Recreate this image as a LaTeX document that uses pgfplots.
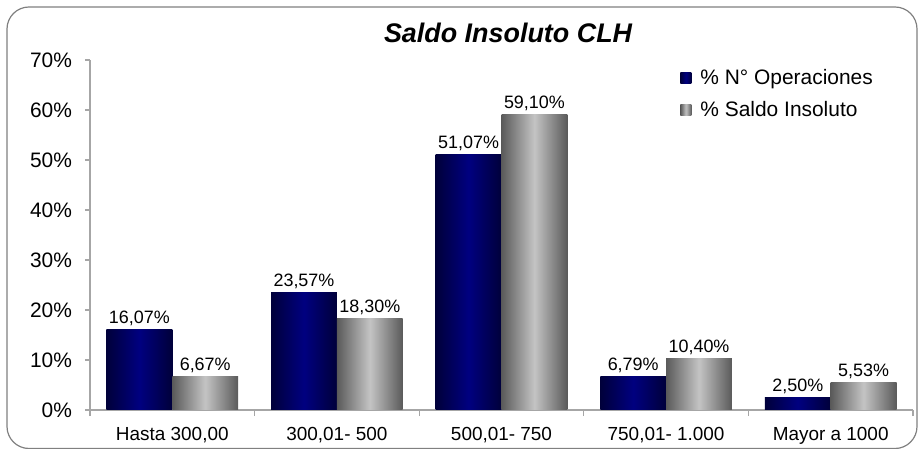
\documentclass[border=0pt]{standalone}
\usepackage{pgfplots}
\pgfplotsset{compat=1.18}
\usepackage{fontspec}
\setmainfont{Liberation Sans}

\definecolor{navyD}{HTML}{00003A}
\definecolor{navyM}{HTML}{000080}
\definecolor{grayD}{HTML}{5A5A5A}
\definecolor{grayM}{HTML}{C4C4C4}
\definecolor{axgray}{HTML}{A6A6A6}

\pgfplotsset{
  opbar/.style={draw=none, bar shift=-0.2, left color=navyD, right color=navyD, middle color=navyM},
  sibar/.style={draw=none, bar shift=0.2, left color=grayD, right color=grayD, middle color=grayM},
}

\begin{document}
\begin{tikzpicture}
\begin{axis}[name=ax,
  scale only axis, width=411.5bp, height=175bp,
  ybar=0pt, bar width=0.4,
  xmin=-0.5, xmax=4.5, ymin=0, ymax=70,
  xtick={0,...,4},
  xticklabels={{Hasta 300,00}, {300,01- 500}, {500,01- 750}, {750,01- 1.000}, {Mayor a 1000}},
  minor xtick={-0.5,0.5,...,4.5},
  ytick={0,10,...,70},
  yticklabel={\pgfmathprintnumber{\tick}\%},
  axis x line*=bottom, axis y line*=left,
  axis line style={axgray, line width=0.6bp},
  tick align=outside,
  major x tick style={draw=none},
  minor x tick style={axgray, line width=0.6bp},
  major y tick style={axgray, line width=0.6bp},
  major tick length=2.5bp, minor tick length=3bp,
  ticklabel style={font=\fontsize{10.5}{12}\selectfont},
  yticklabel style={xshift=-3bp},
  xticklabel style={font=\fontsize{9.5}{11}\selectfont, yshift=-2.5bp},
  /pgf/number format/assume math mode=true,
  nodes near coords={\pgfmathprintnumber[use comma, fixed, fixed zerofill, precision=2]{\pgfplotspointmeta}\%},
  every node near coord/.append style={font=\fontsize{9}{10}\selectfont, text=black, anchor=south, inner sep=1.5bp},
  legend image code/.code={\path[#1] (0bp,-2.75bp) rectangle (5.5bp,2.75bp);},
  legend cell align=left,
  legend style={at={(0.717,0.986)}, anchor=north west, draw=none, fill=none,
    font=\fontsize{10.5}{12}\selectfont, inner sep=0pt, row sep=3bp,
    nodes={inner xsep=4.5bp}},
  clip=false,
]
% % N° Operaciones
\addplot[opbar] coordinates {(0,16.07)};
\addlegendentry{\% N° Operaciones}
\addplot[opbar, forget plot] coordinates {(1,23.57)};
\addplot[opbar, forget plot] coordinates {(2,51.07)};
\addplot[opbar, forget plot] coordinates {(3,6.79)};
\addplot[opbar, forget plot] coordinates {(4,2.50)};
% % Saldo Insoluto
\addplot[sibar] coordinates {(0,6.67)};
\addlegendentry{\% Saldo Insoluto}
\addplot[sibar, forget plot] coordinates {(1,18.30)};
\addplot[sibar, forget plot] coordinates {(2,59.10)};
\addplot[sibar, forget plot] coordinates {(3,10.40)};
\addplot[sibar, forget plot] coordinates {(4,5.53)};
\node[anchor=base, font=\fontsize{13.5}{15}\selectfont\bfseries\itshape]
  at (rel axis cs:0.508,1) [yshift=9bp] {Saldo Insoluto CLH};
\end{axis}
\draw[gray, line width=0.6bp, rounded corners=11bp]
  ([shift={(-41.5bp,-19.25bp)}]ax.south west) rectangle ([shift={(413.5bp,201.5bp)}]ax.south west);
\pgfresetboundingbox
\path[use as bounding box] ([shift={(-45bp,-19.5bp)}]ax.south west) rectangle ([shift={(414bp,205bp)}]ax.south west);
\end{tikzpicture}
\end{document}
